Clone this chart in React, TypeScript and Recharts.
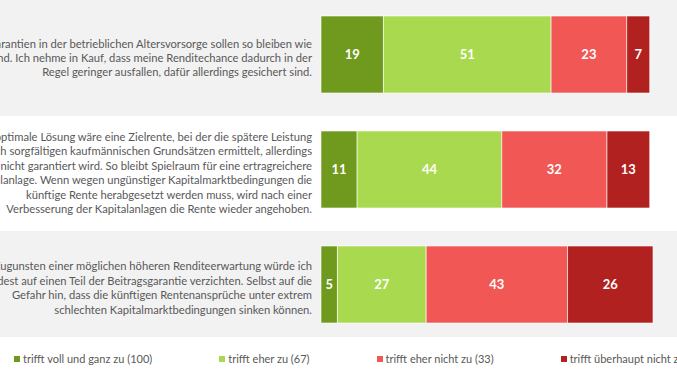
import React from 'react';
import { BarChart, Bar, XAxis, YAxis, LabelList, Legend } from 'recharts';

const statements = [
  'Die Garantien in der betrieblichen Altersvorsorge sollen so bleiben wie\nsie sind. Ich nehme in Kauf, dass meine Renditechance dadurch in der\nRegel geringer ausfallen, dafür allerdings gesichert sind.',
  'Die optimale Lösung wäre eine Zielrente, bei der die spätere Leistung\nnach sorgfältigen kaufmännischen Grundsätzen ermittelt, allerdings\nnicht garantiert wird. So bleibt Spielraum für eine ertragreichere\nKapitalanlage. Wenn wegen ungünstiger Kapitalmarktbedingungen die\nkünftige Rente herabgesetzt werden muss, wird nach einer\nVerbesserung der Kapitalanlagen die Rente wieder angehoben.',
  'Zugunsten einer möglichen höheren Renditeerwartung würde ich\nzumindest auf einen Teil der Beitragsgarantie verzichten. Selbst auf die\nGefahr hin, dass die künftigen Rentenansprüche unter extrem\nschlechten Kapitalmarktbedingungen sinken können.'
];

const vollUndGanz = [19, 11, 5];
const eherZu = [51, 44, 27];
const eherNicht = [23, 32, 43];
const ueberhauptNicht = [7, 13, 26];

const seriesNames = [
  'trifft voll und ganz zu (100)',
  'trifft eher zu (67)',
  'trifft eher nicht zu (33)',
  'trifft überhaupt nicht zu (0)'
];
const seriesKeys = ['voll', 'eher', 'eherNicht', 'ueberhaupt'];
const colors = ['#6f9a1d', '#a9d94f', '#f05755', '#b1211f'];

const data = statements.map((s, i) => ({
  statement: s,
  voll: vollUndGanz[i],
  eher: eherZu[i],
  eherNicht: eherNicht[i],
  ueberhaupt: ueberhauptNicht[i]
}));

const FONT = 'Lato, "Open Sans", sans-serif';
const TEXT = '#595959';

const StatementTick = (props: any) => {
  const { x, y, payload } = props;
  const lines = String(payload.value).split('\n');
  const lh = 14.4;
  const top = y + 3.5 - ((lines.length - 1) * lh) / 2;
  return (
    <text textAnchor="end" fill={TEXT} fontSize={11.2} fontFamily={FONT}>
      {lines.map((l, i) => (
        <tspan key={i} x={x} y={top + i * lh} dy="0.35em">
          {l}
        </tspan>
      ))}
    </text>
  );
};

const renderLegend = () => (
  <div
    style={{
      display: 'flex',
      alignItems: 'center',
      height: 43,
      paddingLeft: 14,
      gap: 67,
      fontFamily: FONT,
      fontSize: 11,
      color: TEXT,
      whiteSpace: 'nowrap'
    }}
  >
    {seriesNames.map((n, i) => (
      <div key={n} style={{ display: 'flex', alignItems: 'center' }}>
        <span style={{ display: 'inline-block', width: 6, height: 6, background: colors[i], marginRight: 3 }} />
        {n}
      </div>
    ))}
  </div>
);

export default function App() {
  return (
    <div style={{ position: 'absolute', left: 0, top: 0, width: 677, height: 380, overflow: 'hidden', background: '#fff' }}>
      <div style={{ position: 'absolute', left: 0, top: 0, width: 677, height: 116, background: '#f2f2f2' }} />
      <div style={{ position: 'absolute', left: 0, top: 231, width: 677, height: 106, background: '#f2f2f2' }} />
      <div style={{ position: 'absolute', left: 0, top: 0 }}>
        <BarChart
          width={677}
          height={380}
          data={data}
          layout="vertical"
          barCategoryGap={0}
          margin={{ top: -3, right: 24, bottom: 38, left: 0 }}
        >
          <XAxis type="number" domain={[0, 100]} hide />
          <YAxis
            type="category"
            dataKey="statement"
            width={321}
            axisLine={false}
            tickLine={false}
            tickSize={6}
            tickMargin={3}
            tick={<StatementTick />}
            interval={0}
          />
          {seriesKeys.map((k, i) => (
            <Bar
              key={k}
              dataKey={k}
              name={seriesNames[i]}
              stackId="a"
              fill={colors[i]}
              stroke="#ffffff"
              strokeOpacity={0.6}
              strokeWidth={1}
              barSize={77}
              isAnimationActive={false}
            >
              <LabelList
                dataKey={k}
                position="center"
                fill="#ffffff"
                fontSize={13}
                fontWeight="bold"
                fontFamily={FONT}
              />
            </Bar>
          ))}
          <Legend
            layout="vertical"
            align="center"
            verticalAlign="middle"
            content={renderLegend}
            wrapperStyle={{ left: 0, top: 337, width: 677, height: 43 }}
          />
        </BarChart>
      </div>
    </div>
  );
}
